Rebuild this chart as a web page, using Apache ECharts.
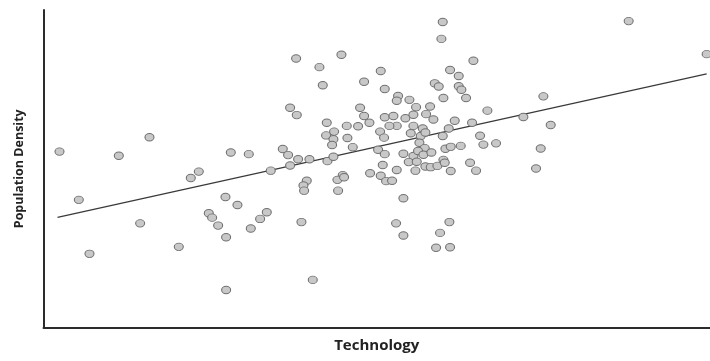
<!DOCTYPE html>
<html>
<head>
<meta charset="utf-8">
<script src="https://cdn.jsdelivr.net/npm/echarts@6/dist/echarts.min.js"></script>
<style>
  html, body { margin: 0; padding: 0; background: #ffffff; }
  #chart { width: 710px; height: 361px; }
</style>
</head>
<body>
<div id="chart"></div>
<script>
// Technology index (x) vs. population density index (y), one pair per society
const technology = [
  2.4, 15.9, 11.3, 28.1, 30.8, 23.3, 22.1, 34.1, 5.3, 27.3, 29.1, 24.8, 25.3, 26.2, 27.4, 31.1,
  32.5, 33.5, 14.5, 20.3, 6.9, 27.4, 40.4,
  37.9, 44.7, 41.4, 50.6, 41.9, 48.1, 51.2, 53.2, 53.0, 37.0, 38.0, 47.5, 48.1, 42.5, 45.5, 47.2,
  48.9, 51.2, 52.5, 53.0,
  59.9, 59.7, 64.5, 61.0, 62.3, 58.7, 59.3, 62.3, 62.7, 60.0, 63.4, 66.6, 54.9, 55.9, 58.0, 54.3,
  55.5, 57.4, 58.5, 61.7, 64.3, 55.5, 56.9, 60.8,
  43.6, 42.4, 43.5, 45.6, 43.3, 46.4, 35.9, 36.7, 38.2, 39.9, 37.0, 42.6, 43.5, 39.5, 39.0, 39.1,
  44.9, 44.1, 45.1, 44.2,
  51.9, 50.5, 51.1, 55.1, 56.6, 57.3, 56.4, 57.2, 50.2, 51.2, 54.0, 55.5, 56.2, 57.0, 58.2, 54.8,
  56.0, 50.9, 49.0, 50.6, 53.0, 55.8, 57.3, 58.1, 59.1, 51.4, 52.3, 54.0,
  59.9, 65.5, 66.0, 67.9, 60.3, 61.1, 62.6, 60.0, 60.2, 64.0, 64.9, 61.1,
  38.7, 52.9, 54.0, 60.9, 59.5, 58.9, 61.0,
  87.8, 99.5, 75.0, 72.0, 76.1, 74.6, 73.9
];
const density = [
  55.4, 59.9, 54.1, 55.1, 54.6, 49.1, 47.1, 49.4, 40.2, 41.1, 38.6, 36.0, 34.6, 32.1, 28.4, 31.2,
  34.2, 36.3, 32.8, 25.4, 23.2, 11.8, 15.0,
  84.7, 85.9, 82.0, 80.8, 76.3, 77.4, 75.1, 72.9, 71.4, 69.2, 66.9, 69.2, 66.6, 64.5, 63.5, 63.4,
  64.5, 66.2, 66.6, 63.5,
  96.2, 90.9, 84.0, 81.1, 79.2, 76.9, 75.9, 76.0, 74.9, 72.3, 72.3, 68.3, 71.7, 69.4, 69.6, 65.9,
  67.0, 67.2, 65.5, 65.1, 64.5, 63.5, 62.7, 62.7,
  61.7, 60.5, 59.3, 59.7, 57.5, 56.8, 56.2, 54.3, 53.0, 53.0, 51.0, 52.4, 53.8, 46.2, 44.7, 43.1,
  48.0, 46.5, 47.3, 43.1,
  63.5, 61.7, 59.8, 61.2, 60.3, 61.4, 58.2, 56.5, 56.0, 54.6, 54.7, 54.0, 55.6, 54.4, 55.1, 52.1,
  52.2, 51.2, 48.6, 47.8, 49.6, 49.4, 50.7, 50.5, 50.9, 46.1, 46.2, 40.7,
  60.3, 60.4, 57.6, 58.0, 56.3, 56.9, 57.2, 52.8, 51.9, 51.9, 49.4, 49.3,
  33.2, 32.8, 29.0, 33.2, 29.8, 25.1, 25.3,
  96.5, 86.1, 72.8, 66.3, 63.8, 56.4, 50.1
];

// End points of the fitted trend line
const trendX = [2.1, 99.5];
const trendY = [34.7, 79.9];

const points = technology.map((t, i) => [t, density[i]]);
const trend = trendX.map((t, i) => [t, trendY[i]]);

const chart = echarts.init(document.getElementById('chart'), null, { renderer: 'canvas' });

const axisLine = { show: true, lineStyle: { color: '#2b2b2b', width: 2 } };

chart.setOption({
  animation: false,
  backgroundColor: '#ffffff',
  grid: { left: 43.5, right: 0, top: 10, bottom: 33.5, containLabel: false },
  xAxis: {
    type: 'value', min: 0, max: 100,
    name: 'Technology', nameLocation: 'middle', nameGap: 11,
    nameTextStyle: { fontFamily: 'Open Sans', fontWeight: 'bold', fontSize: 15, color: '#222' },
    axisLine: axisLine, axisTick: { show: false }, axisLabel: { show: false }, splitLine: { show: false }
  },
  yAxis: {
    type: 'value', min: 0, max: 100,
    name: 'Population Density', nameLocation: 'middle', nameGap: 18, nameRotate: 90,
    nameTextStyle: { fontFamily: 'Open Sans', fontWeight: 'bold', fontSize: 12.5, color: '#222' },
    axisLine: axisLine, axisTick: { show: false }, axisLabel: { show: false }, splitLine: { show: false }
  },
  series: [
    {
      type: 'line',
      data: trend,
      symbol: 'none',
      lineStyle: { color: '#3a3a3a', width: 1.2 },
      z: 1
    },
    {
      type: 'scatter',
      data: points,
      symbol: 'circle',
      symbolSize: [9, 7.5],
      itemStyle: { color: '#c8c8c8', borderColor: '#707070', borderWidth: 1, opacity: 1 },
      z: 2
    }
  ]
});
</script>
</body>
</html>
